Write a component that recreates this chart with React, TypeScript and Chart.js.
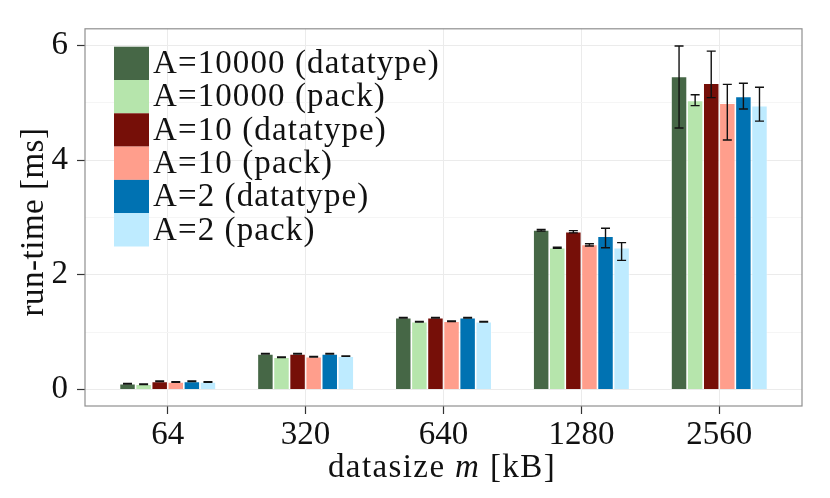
import { useEffect, useRef } from 'react';
import Chart from 'chart.js/auto';

const sizeLabels = ['64', '320', '640', '1280', '2560'];
const seriesNames = [
  'A=10000 (datatype)',
  'A=10000 (pack)',
  'A=10 (datatype)',
  'A=10 (pack)',
  'A=2 (datatype)',
  'A=2 (pack)',
];
const seriesColors = ['#466746', '#B6E5AC', '#760F08', '#FF9E8C', '#0072B2', '#BEEBFF'];

// run-time in ms, with lower/upper ends of the error bars
const a10000Datatype = [0.1, 0.62, 1.25, 2.78, 5.46];
const a10000DatatypeLo = [0.095, 0.615, 1.245, 2.76, 4.56];
const a10000DatatypeHi = [0.105, 0.625, 1.255, 2.79, 5.99];

const a10000Pack = [0.09, 0.56, 1.18, 2.47, 5.04];
const a10000PackLo = [0.085, 0.555, 1.175, 2.46, 4.95];
const a10000PackHi = [0.095, 0.565, 1.185, 2.48, 5.14];

const a10Datatype = [0.14, 0.62, 1.25, 2.75, 5.34];
const a10DatatypeLo = [0.135, 0.615, 1.245, 2.73, 5.09];
const a10DatatypeHi = [0.145, 0.625, 1.255, 2.77, 5.9];

const a10Pack = [0.13, 0.57, 1.19, 2.53, 4.99];
const a10PackLo = [0.125, 0.565, 1.185, 2.5, 4.35];
const a10PackHi = [0.135, 0.575, 1.195, 2.54, 5.32];

const a2Datatype = [0.14, 0.62, 1.25, 2.67, 5.11];
const a2DatatypeLo = [0.135, 0.615, 1.245, 2.47, 4.89];
const a2DatatypeHi = [0.145, 0.625, 1.255, 2.81, 5.34];

const a2Pack = [0.13, 0.58, 1.18, 2.47, 4.95];
const a2PackLo = [0.125, 0.575, 1.175, 2.25, 4.68];
const a2PackHi = [0.135, 0.585, 1.185, 2.56, 5.27];

const seriesValues = [a10000Datatype, a10000Pack, a10Datatype, a10Pack, a2Datatype, a2Pack];
const seriesLo = [a10000DatatypeLo, a10000PackLo, a10DatatypeLo, a10PackLo, a2DatatypeLo, a2PackLo];
const seriesHi = [a10000DatatypeHi, a10000PackHi, a10DatatypeHi, a10PackHi, a2DatatypeHi, a2PackHi];

const yTicks = [0, 1, 2, 3, 4, 5, 6];

const FONT = "'Liberation Serif', 'DejaVu Serif', serif";
const TEXT = '#111111';

// error bars, panel border, legend and axis titles
const extrasPlugin = {
  id: 'extras',
  afterDatasetsDraw(chart: any) {
    const { ctx } = chart;
    const yScale = chart.scales.y;
    ctx.save();
    ctx.strokeStyle = '#111111';
    ctx.lineWidth = 1.4;
    chart.data.datasets.forEach((_: any, di: number) => {
      const meta = chart.getDatasetMeta(di);
      meta.data.forEach((el: any, i: number) => {
        const yLo = yScale.getPixelForValue(seriesLo[di][i]);
        const yHi = yScale.getPixelForValue(seriesHi[di][i]);
        const half = 4.5;
        ctx.beginPath();
        ctx.moveTo(el.x, yLo);
        ctx.lineTo(el.x, yHi);
        ctx.moveTo(el.x - half, yLo);
        ctx.lineTo(el.x + half, yLo);
        ctx.moveTo(el.x - half, yHi);
        ctx.lineTo(el.x + half, yHi);
        ctx.stroke();
      });
    });
    ctx.restore();
  },
  afterDraw(chart: any) {
    const { ctx, chartArea } = chart;
    ctx.save();
    // panel border
    ctx.strokeStyle = '#8F8F8F';
    ctx.lineWidth = 1.2;
    ctx.strokeRect(chartArea.left, chartArea.top, chartArea.right - chartArea.left, chartArea.bottom - chartArea.top);

    // legend
    const keyX = 114;
    const keyW = 35;
    const rowH = 33.3;
    const top = 46.7;
    ctx.font = `33px ${FONT}`;
    ctx.letterSpacing = '1.1px';
    ctx.textBaseline = 'middle';
    ctx.textAlign = 'left';
    seriesNames.forEach((name, i) => {
      const y = top + i * rowH;
      ctx.fillStyle = seriesColors[i];
      ctx.fillRect(keyX, y, keyW, rowH);
      ctx.fillStyle = TEXT;
      ctx.fillText(name, keyX + keyW + 4, y + rowH / 2 + 1);
    });

    // x title with italic m
    ctx.letterSpacing = '1.4px';
    const partA = 'datasize ';
    const partB = 'm';
    const partC = ' [kB]';
    ctx.textBaseline = 'alphabetic';
    ctx.font = `33px ${FONT}`;
    const wA = ctx.measureText(partA).width;
    const wC = ctx.measureText(partC).width;
    ctx.font = `italic 33px ${FONT}`;
    const wB = ctx.measureText(partB).width;
    let x = 442 - (wA + wB + wC) / 2;
    const base = 477;
    ctx.fillStyle = TEXT;
    ctx.font = `33px ${FONT}`;
    ctx.fillText(partA, x, base);
    x += wA;
    ctx.font = `italic 33px ${FONT}`;
    ctx.fillText(partB, x, base);
    x += wB;
    ctx.font = `33px ${FONT}`;
    ctx.fillText(partC, x, base);

    // y title
    ctx.letterSpacing = '0.5px';
    ctx.translate(42.5, 222);
    ctx.rotate(-Math.PI / 2);
    ctx.textAlign = 'center';
    ctx.fillText('run-time [ms]', 0, 0);
    ctx.restore();
  },
};

export default function App() {
  const canvasRef = useRef<HTMLCanvasElement | null>(null);
  const chartRef = useRef<Chart | null>(null);

  useEffect(() => {
    const canvas = canvasRef.current;
    if (!canvas) return;

    if (chartRef.current) {
      chartRef.current.destroy();
      chartRef.current = null;
    }

    chartRef.current = new Chart(canvas, {
      type: 'bar',
      data: {
        datasets: seriesNames.map((name, di) => ({
          label: name,
          data: seriesValues[di].map((v, i) => ({ x: i, y: v })),
          backgroundColor: seriesColors[di],
          borderColor: 'rgba(255,255,255,0.85)',
          borderWidth: 0.8,
          categoryPercentage: 0.7,
          barPercentage: 1,
        })),
      },
      options: {
        responsive: true,
        maintainAspectRatio: false,
        animation: false,
        layout: { padding: { top: 27, right: 28, left: 0, bottom: 0 } },
        plugins: {
          legend: { display: false },
          tooltip: { enabled: false },
        },
        scales: {
          x: {
            type: 'linear',
            min: -0.6,
            max: 4.6,
            offset: false,
            afterBuildTicks: (axis: any) => {
              axis.ticks = sizeLabels.map((_, i) => ({ value: i }));
            },
            afterFit: (axis: any) => {
              axis.height = 92;
            },
            border: { display: false },
            grid: {
              offset: false,
              color: '#EBEBEB',
              lineWidth: 1,
              tickLength: 8,
              tickColor: '#333333',
              tickWidth: 1.2,
            },
            ticks: {
              padding: 2,
              color: TEXT,
              font: { family: FONT, size: 33 },
              maxRotation: 0,
              autoSkip: false,
              callback: (value: any) => sizeLabels[Number(value)] ?? '',
            },
          },
          y: {
            min: -0.29,
            max: 6.29,
            afterBuildTicks: (axis: any) => {
              axis.ticks = yTicks.map((v) => ({ value: v }));
            },
            afterFit: (axis: any) => {
              axis.width = 85;
            },
            border: { display: false },
            grid: {
              color: (ctx: any) => (ctx.tick && ctx.tick.value % 2 === 0 ? '#EBEBEB' : '#F5F5F5'),
              lineWidth: 1,
              tickLength: 8,
              tickColor: (ctx: any) => (ctx.tick && ctx.tick.value % 2 === 0 ? '#333333' : 'rgba(0,0,0,0)'),
              tickWidth: 1.2,
            },
            ticks: {
              padding: 9,
              color: TEXT,
              font: { family: FONT, size: 33 },
              autoSkip: false,
              callback: (value: any) => (Number(value) % 2 === 0 ? String(value) : ''),
            },
          },
        },
      },
      plugins: [extrasPlugin],
    } as any);

    return () => {
      if (chartRef.current) {
        chartRef.current.destroy();
        chartRef.current = null;
      }
    };
  }, []);

  return (
    <div style={{ position: 'fixed', left: 0, top: 0, width: 830, height: 498, background: '#ffffff' }}>
      <canvas ref={canvasRef} />
    </div>
  );
}
